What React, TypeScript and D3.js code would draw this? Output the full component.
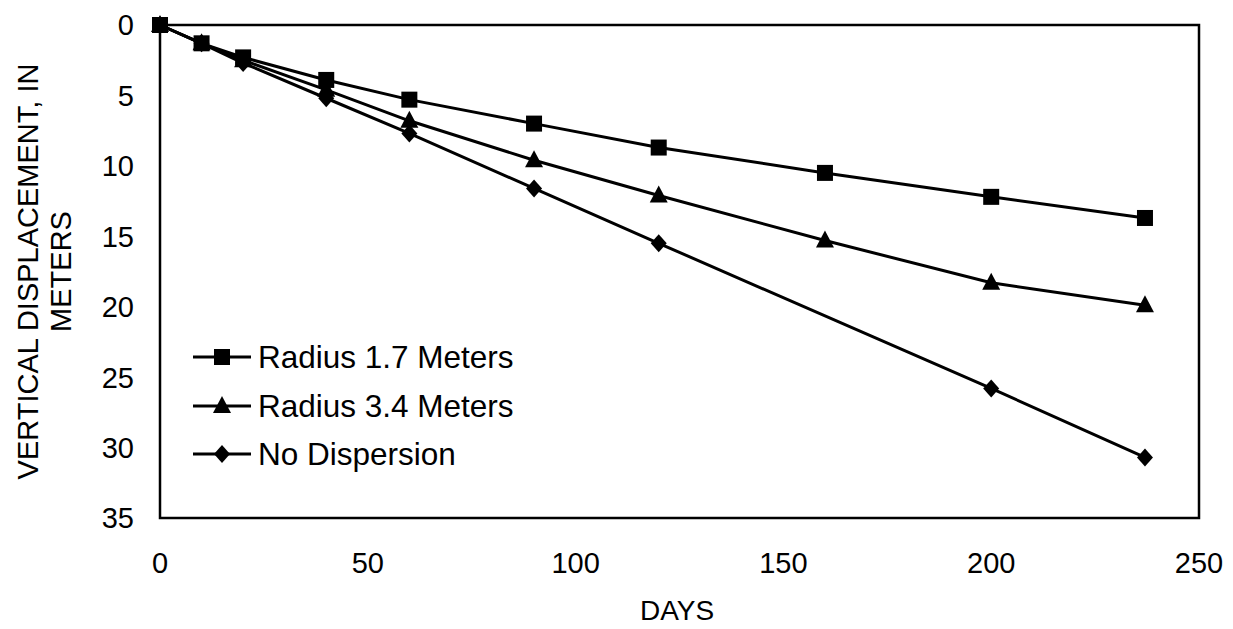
import React from "react";
import * as d3 from "d3";

// Time axis (days) for each series
const daysRadius = [0, 10, 20, 40, 60, 90, 120, 160, 200, 237];
const daysNoDispersion = [0, 10, 20, 40, 60, 90, 120, 200, 237];

// Vertical displacement, in meters
const radius17 = [0, 1.3, 2.3, 3.9, 5.3, 7.0, 8.7, 10.5, 12.2, 13.7];
const radius34 = [0, 1.3, 2.5, 4.6, 6.8, 9.6, 12.1, 15.3, 18.3, 19.9];
const noDispersion = [0, 1.3, 2.7, 5.2, 7.7, 11.6, 15.5, 25.8, 30.7];

const xTicks = [0, 50, 100, 150, 200, 250];
const yTicks = [0, 5, 10, 15, 20, 25, 30, 35];

const seriesNames = ["Radius 1.7 Meters", "Radius 3.4 Meters", "No Dispersion"];

const W = 1233;
const H = 629;
const FONT = "'Liberation Sans', Arial, sans-serif";

type Shape = "square" | "triangle" | "diamond";

function Marker({ x, y, shape }: { x: number; y: number; shape: Shape }) {
  if (shape === "square") {
    return <rect x={x - 8} y={y - 8} width={16} height={16} fill="#000" />;
  }
  if (shape === "triangle") {
    return <path d={`M${x},${y - 10}L${x + 9},${y + 7}L${x - 9},${y + 7}Z`} fill="#000" />;
  }
  return <path d={`M${x},${y - 9}L${x + 8},${y}L${x},${y + 9}L${x - 8},${y}Z`} fill="#000" />;
}

export default function App() {
  const left = 160;
  const right = 1199;
  const top = 25;
  const bottom = 518;

  const x = d3.scaleLinear().domain([0, 250]).range([left, right]);
  const y = d3.scaleLinear().domain([0, 35]).range([top, bottom]);

  const series: { name: string; days: number[]; values: number[]; shape: Shape }[] = [
    { name: seriesNames[0], days: daysRadius, values: radius17, shape: "square" },
    { name: seriesNames[1], days: daysRadius, values: radius34, shape: "triangle" },
    { name: seriesNames[2], days: daysNoDispersion, values: noDispersion, shape: "diamond" },
  ];

  const line = d3
    .line<[number, number]>()
    .x((d) => x(d[0]))
    .y((d) => y(d[1]));

  const legendY = [357, 406, 454];

  return (
    <svg
      width={W}
      height={H}
      style={{ position: "absolute", left: 0, top: 0, background: "#fff" }}
      fontFamily={FONT}
    >
      <rect x={0} y={0} width={W} height={H} fill="#fff" />

      {/* plot frame */}
      <rect
        x={left}
        y={top}
        width={right - left}
        height={bottom - top}
        fill="none"
        stroke="#000"
        strokeWidth={2.5}
      />

      {/* y tick labels */}
      {yTicks.map((t) => (
        <text
          key={`y${t}`}
          x={134}
          y={y(t)}
          dy="0.36em"
          textAnchor="end"
          fontSize={29}
          fill="#000"
        >
          {t}
        </text>
      ))}

      {/* x tick labels */}
      {xTicks.map((t) => (
        <text
          key={`x${t}`}
          x={x(t)}
          y={573}
          textAnchor="middle"
          fontSize={29}
          fill="#000"
        >
          {t}
        </text>
      ))}

      {/* axis titles */}
      <text x={677} y={620} textAnchor="middle" fontSize={28} fill="#000">
        DAYS
      </text>
      <text
        transform={`translate(30, ${(top + bottom) / 2}) rotate(-90)`}
        textAnchor="middle"
        fontSize={29}
        fill="#000"
      >
        <tspan x={0} y={-2} dy="0.36em">
          VERTICAL DISPLACEMENT, IN
        </tspan>
        <tspan x={0} y={31} dy="0.36em">
          METERS
        </tspan>
      </text>

      {/* series lines and markers */}
      {series.map((s) => {
        const pts = s.days.map((d, i) => [d, s.values[i]] as [number, number]);
        return (
          <g key={s.name}>
            <path d={line(pts) || ""} fill="none" stroke="#000" strokeWidth={3} />
            {pts.map((p, i) => (
              <Marker key={i} x={x(p[0])} y={y(p[1])} shape={s.shape} />
            ))}
          </g>
        );
      })}

      {/* legend */}
      {series.map((s, i) => (
        <g key={`lg${i}`}>
          <line x1={193} x2={251} y1={legendY[i]} y2={legendY[i]} stroke="#000" strokeWidth={3} />
          <Marker x={222} y={legendY[i]} shape={s.shape} />
          <text x={258} y={legendY[i]} dy="0.36em" fontSize={31.5} fill="#000">
            {s.name}
          </text>
        </g>
      ))}
    </svg>
  );
}
